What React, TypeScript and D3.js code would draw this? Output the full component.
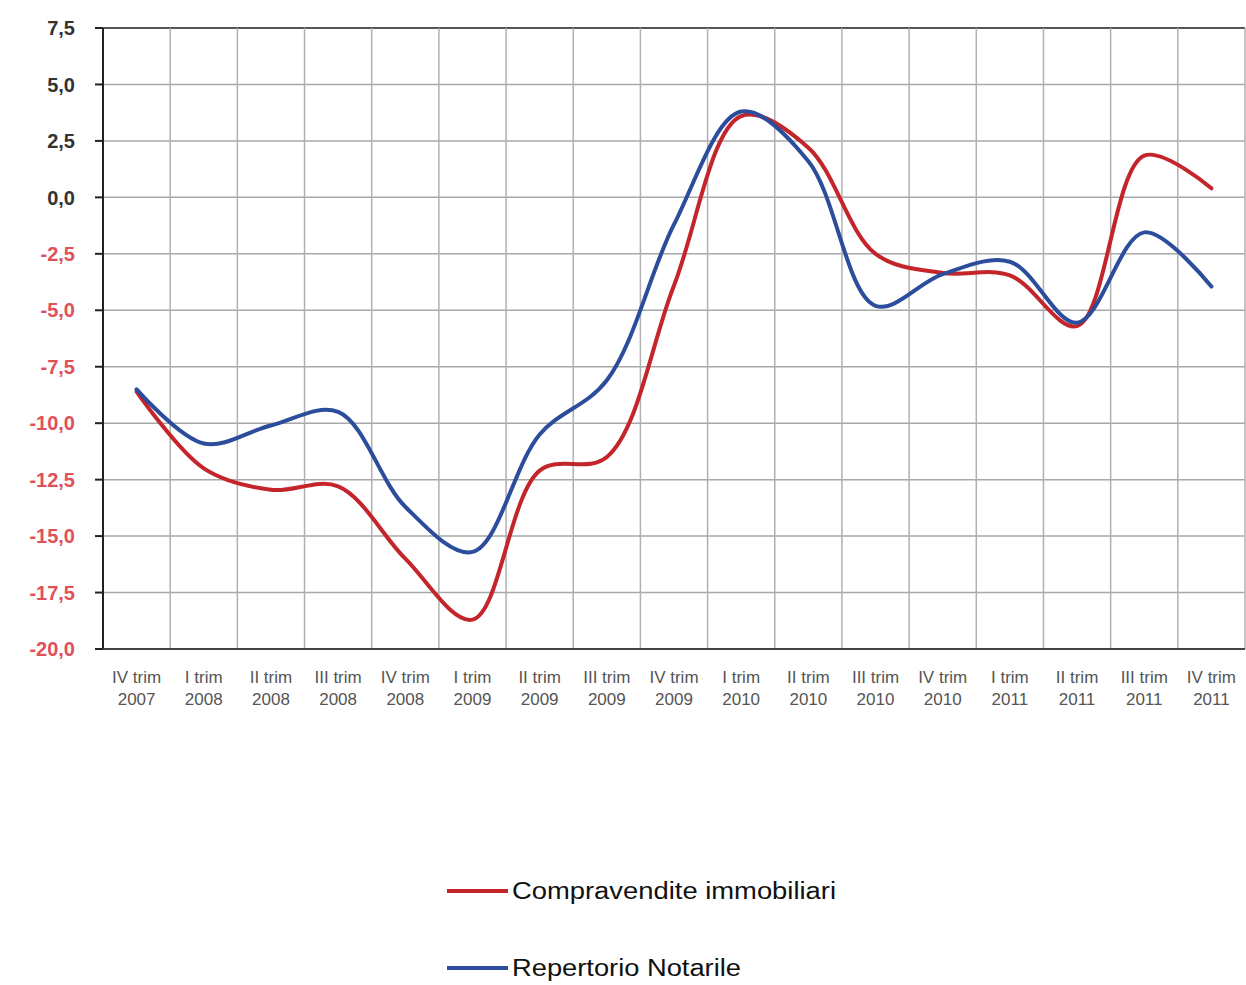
import React from "react";
import * as d3 from "d3";

const categories = [
  "IV trim|2007", "I trim|2008", "II trim|2008", "III trim|2008", "IV trim|2008",
  "I trim|2009", "II trim|2009", "III trim|2009", "IV trim|2009", "I trim|2010",
  "II trim|2010", "III trim|2010", "IV trim|2010", "I trim|2011", "II trim|2011",
  "III trim|2011", "IV trim|2011",
];
const compravendite = [-8.6, -12.0, -12.95, -12.8, -16.0, -18.7, -12.1, -11.5, -3.9, 3.6, 2.2, -2.5, -3.35, -3.45, -5.7, 1.85, 0.4];
const repertorio = [-8.5, -10.9, -10.1, -9.5, -13.7, -15.7, -10.5, -8.1, -1.2, 3.8, 1.6, -4.8, -3.4, -2.85, -5.55, -1.55, -3.95];
const yTicks = [7.5, 5, 2.5, 0, -2.5, -5, -7.5, -10, -12.5, -15, -17.5, -20];
const seriesNames = ["Compravendite immobiliari", "Repertorio Notarile"];
const seriesColors = ["#c3252b", "#2b4d9b"];

export default function App() {
  const W = 1246, H = 985;
  const left = 103, right = 1245, top = 28, bottom = 649;
  const x = d3.scaleBand<string>().domain(categories).range([left, right]).padding(0);
  const y = d3.scaleLinear().domain([-20, 7.5]).range([bottom, top]);
  const cx = (c: string) => (x(c) as number) + x.bandwidth() / 2;
  const line = d3
    .line<number>()
    .x((_, i) => cx(categories[i]))
    .y((d) => y(d))
    .curve(d3.curveCatmullRom.alpha(0.5));
  const fmt = (v: number) => v.toFixed(1).replace(".", ",");
  const font = "'Liberation Sans', Arial, sans-serif";
  const boundaries = categories.map((c) => x(c) as number).concat([right]);

  return (
    <svg width={W} height={H} style={{ position: "absolute", left: 0, top: 0, background: "#fff" }} fontFamily={font}>
      {yTicks.map((t) => (
        <line key={"h" + t} x1={left} x2={right} y1={y(t)} y2={y(t)} stroke={t === 7.5 ? "#555" : "#a8a8a8"} strokeWidth={t === 7.5 ? 2 : 1.5} />
      ))}
      {boundaries.slice(1).map((b, i) => (
        <line key={"v" + i} x1={b} x2={b} y1={top} y2={bottom} stroke="#b0b0b0" strokeWidth={1.5} />
      ))}
      <line x1={left} x2={left} y1={top} y2={bottom} stroke="#222" strokeWidth={2} />
      <line x1={left - 8} x2={right} y1={bottom} y2={bottom} stroke="#444" strokeWidth={2} />
      {yTicks.map((t) => (
        <line key={"t" + t} x1={left - 8} x2={left} y1={y(t)} y2={y(t)} stroke="#222" strokeWidth={2} />
      ))}
      {yTicks.map((t) => (
        <text key={"yl" + t} x={75} y={y(t)} dy="0.36em" textAnchor="end" fontSize={20} fontWeight="bold"
          fill={t < 0 ? "#e0505a" : "#333"}>
          {fmt(t)}
        </text>
      ))}
      {categories.map((c) => {
        const [a, b] = c.split("|");
        return (
          <g key={"xl" + c} fill="#555" fontSize={17} textAnchor="middle">
            <text x={cx(c)} y={683}>{a}</text>
            <text x={cx(c)} y={705}>{b}</text>
          </g>
        );
      })}
      {[compravendite, repertorio].map((s, i) => (
        <path key={"s" + i} d={line(s) || ""} fill="none" stroke={seriesColors[i]} strokeWidth={4} strokeLinecap="round" strokeLinejoin="round" />
      ))}
      {seriesNames.map((n, i) => {
        const ly = i === 0 ? 891 : 968;
        return (
          <g key={"lg" + i}>
            <line x1={447} x2={508} y1={ly} y2={ly} stroke={seriesColors[i]} strokeWidth={4} />
            <text x={512} y={ly} dy="0.36em" fontSize={23} fill="#111" textLength={i === 0 ? 324 : 229} lengthAdjust="spacingAndGlyphs">
              {n}
            </text>
          </g>
        );
      })}
    </svg>
  );
}
